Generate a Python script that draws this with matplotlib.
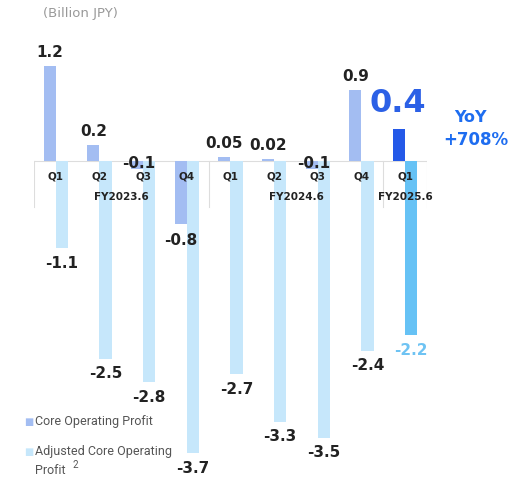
import matplotlib.pyplot as plt
import numpy as np

# data (Billion JPY)
quarters = ['Q1', 'Q2', 'Q3', 'Q4', 'Q1', 'Q2', 'Q3', 'Q4', 'Q1']
fiscal_years = ['FY2023.6', 'FY2024.6', 'FY2025.6']
fy_centers = [1.5, 5.5, 8]
core_op = [1.2, 0.2, -0.1, -0.8, 0.05, 0.02, -0.1, 0.9, 0.4]
core_labels = ['1.2', '0.2', '-0.1', '-0.8', '0.05', '0.02', '-0.1', '0.9', '0.4']
adj_core_op = [-1.1, -2.5, -2.8, -3.7, -2.7, -3.3, -3.5, -2.4, -2.2]
adj_labels = ['-1.1', '-2.5', '-2.8', '-3.7', '-2.7', '-3.3', '-3.5', '-2.4', '-2.2']

core_color = '#a3bdf2'
adj_color = '#c6e7fb'
core_hl = '#2459e8'
adj_hl = '#66c2f5'
dark = '#222222'

fig = plt.figure(figsize=(5.1, 4.83), dpi=100)
ax = fig.add_axes([34 / 510, 6 / 483, (427 - 34) / 510, 474 / 483])
ax.set_xlim(-0.5, 8.5)
ax.set_ylim(-4.0, 2.0)
ax.axis('off')

x = np.arange(len(quarters))
w = 0.275
n = len(quarters)
c_cols = [core_color] * (n - 1) + [core_hl]
a_cols = [adj_color] * (n - 1) + [adj_hl]
ax.bar(x - w / 2, core_op, w, color=c_cols, zorder=2)
ax.bar(x + w / 2, adj_core_op, w, color=a_cols, zorder=2)

# table-like axis band
grid = '#dddddd'
ax.plot([-0.5, 8.5], [0, 0], color=grid, lw=0.8, zorder=1)
row_bottom = -46 / 79
for xv in [-0.5, 3.5, 7.5, 8.5]:
    ax.plot([xv, xv], [0, row_bottom], color=grid, lw=0.8, zorder=1)
for xi, q in zip(x, quarters):
    ax.annotate(q, (xi, 0), xytext=(0, -11), textcoords='offset points',
                ha='center', va='center', fontsize=7.5, fontweight='bold',
                color=dark, zorder=3)
for xc, fy in zip(fy_centers, fiscal_years):
    ax.annotate(fy, (xc, 0), xytext=(0, -26), textcoords='offset points',
                ha='center', va='center', fontsize=7.5, fontweight='bold',
                color=dark, zorder=3)

# value labels
for i, (v, lab) in enumerate(zip(core_op, core_labels)):
    if i == n - 1:
        ax.annotate(lab, (x[i] - w / 2, v), xytext=(-1, 19), textcoords='offset points',
                    ha='center', va='center', fontsize=23, fontweight='bold',
                    color='#2b60e6', zorder=4)
    elif v >= 0:
        ax.annotate(lab, (x[i] - w / 2, v), xytext=(0, 10), textcoords='offset points',
                    ha='center', va='center', fontsize=11, fontweight='bold',
                    color=dark, zorder=4)
    elif v > -0.5:
        ax.annotate(lab, (x[i] - w / 2, 0), xytext=(1, -2), textcoords='offset points',
                    ha='center', va='center', fontsize=11, fontweight='bold',
                    color=dark, zorder=4)
    else:
        ax.annotate(lab, (x[i] - w / 2, v), xytext=(0, -12), textcoords='offset points',
                    ha='center', va='center', fontsize=11, fontweight='bold',
                    color=dark, zorder=4)

for i, (v, lab) in enumerate(zip(adj_core_op, adj_labels)):
    col = '#6ec3f3' if i == n - 1 else dark
    ax.annotate(lab, (x[i] + w / 2, v), xytext=(0, -11), textcoords='offset points',
                ha='center', va='center', fontsize=11, fontweight='bold',
                color=col, zorder=4)

# YoY callout
fig.text(470 / 510, 1 - 117 / 483, 'YoY', ha='center', va='center',
         fontsize=11.5, fontweight='bold', color='#1e6df0')
fig.text(476 / 510, 1 - 140 / 483, '+708%', ha='center', va='center',
         fontsize=12, fontweight='bold', color='#1e6df0')

# unit
fig.text(43 / 510, 1 - 13 / 483, '(Billion JPY)', ha='left', va='center',
         fontsize=9.5, color='#999999')

# legend
leg_font = dict(fontsize=9, color='#555555', family='Roboto')
fig.text(24 / 510, 1 - 422 / 483, '\u25a0', ha='left', va='center',
         fontsize=7, color=core_color)
fig.text(35 / 510, 1 - 422 / 483, 'Core Operating Profit', ha='left', va='center',
         **leg_font)
fig.text(24 / 510, 1 - 452 / 483, '\u25a0', ha='left', va='center',
         fontsize=7, color=adj_color)
fig.text(35 / 510, 1 - 452 / 483, 'Adjusted Core Operating', ha='left', va='center',
         **leg_font)
fig.text(35 / 510, 1 - 471 / 483, 'Profit', ha='left', va='center', **leg_font)
fig.text(73 / 510, 1 - 465 / 483, '2', ha='left', va='center',
         fontsize=7, color='#555555', family='Roboto')

fig.savefig('out.png', dpi=100)
